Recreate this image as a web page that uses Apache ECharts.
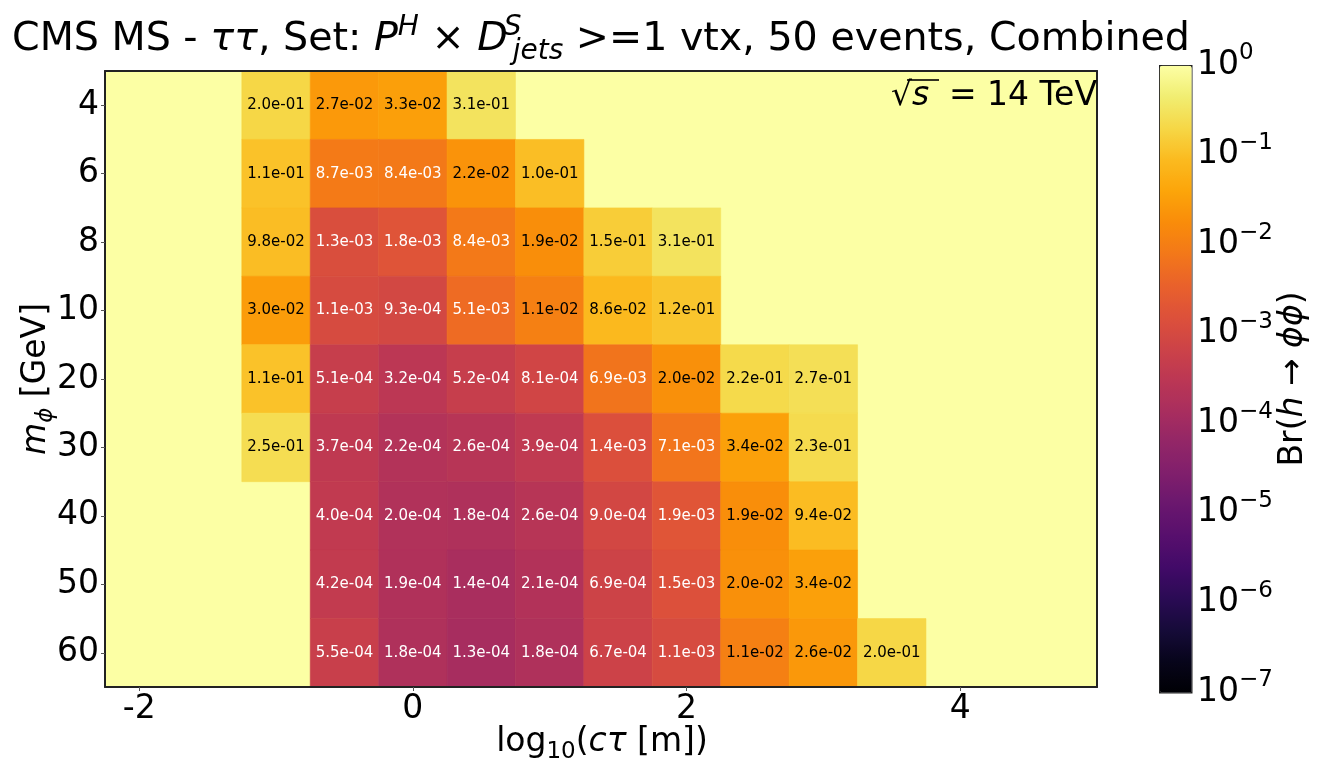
<!DOCTYPE html>
<html>
<head>
<meta charset="utf-8">
<script src="https://cdn.jsdelivr.net/npm/echarts@6/dist/echarts.min.js"></script>
<style>
    html, body { margin: 0; padding: 0; background: #fff; }
    #main { width: 1323px; height: 775px; }
</style>
</head>
<body>
<div id="main"></div>
<script>
// masses (rows, top to bottom) and log10(c*tau) bin centres (columns)
var massLabels = ['4', '6', '8', '10', '20', '30', '40', '50', '60'];
var ctauCenters = [-1.0, -0.5, 0.0, 0.5, 1.0, 1.5, 2.0, 2.5, 3.0, 3.5];

// Br(h -> phi phi) limits per mass row, null = no entry
var br_m4  = [2.0e-01, 2.7e-02, 3.3e-02, 3.1e-01, null, null, null, null, null, null];
var br_m6  = [1.1e-01, 8.7e-03, 8.4e-03, 2.2e-02, 1.0e-01, null, null, null, null, null];
var br_m8  = [9.8e-02, 1.3e-03, 1.8e-03, 8.4e-03, 1.9e-02, 1.5e-01, 3.1e-01, null, null, null];
var br_m10 = [3.0e-02, 1.1e-03, 9.3e-04, 5.1e-03, 1.1e-02, 8.6e-02, 1.2e-01, null, null, null];
var br_m20 = [1.1e-01, 5.1e-04, 3.2e-04, 5.2e-04, 8.1e-04, 6.9e-03, 2.0e-02, 2.2e-01, 2.7e-01, null];
var br_m30 = [2.5e-01, 3.7e-04, 2.2e-04, 2.6e-04, 3.9e-04, 1.4e-03, 7.1e-03, 3.4e-02, 2.3e-01, null];
var br_m40 = [null, 4.0e-04, 2.0e-04, 1.8e-04, 2.6e-04, 9.0e-04, 1.9e-03, 1.9e-02, 9.4e-02, null];
var br_m50 = [null, 4.2e-04, 1.9e-04, 1.4e-04, 2.1e-04, 6.9e-04, 1.5e-03, 2.0e-02, 3.4e-02, null];
var br_m60 = [null, 5.5e-04, 1.8e-04, 1.3e-04, 1.8e-04, 6.7e-04, 1.1e-03, 1.1e-02, 2.6e-02, 2.0e-01];

var xTicks = [-2, 0, 2, 4];

// matplotlib inferno
var inferno = ['#000004', '#07051b', '#160b39', '#2a0b54', '#420a68', '#570f6d', '#6a176e',
    '#801f6c', '#932667', '#a92e5e', '#bc3754', '#cd4347', '#dd513a', '#e9612b', '#f37819',
    '#f98c0a', '#fca50a', '#fbba1f', '#f6d746', '#f1ed71', '#fcffa4'];

var FONT = 'DejaVu Sans';
var rows = [br_m4, br_m6, br_m8, br_m10, br_m20, br_m30, br_m40, br_m50, br_m60];
var cells = [];
rows.forEach(function (row, i) {
    row.forEach(function (v, j) {
        if (v == null) return;
        cells.push([ctauCenters[j], i, Math.log10(v), v]);
    });
});

function fmtExp(v) {
    return v.toExponential(1).replace(/e([+-])(\d)$/, function (m, s, d) { return 'e' + s + '0' + d; });
}

function renderCell(params, api) {
    var x = api.value(0), row = api.value(1), v = api.value(3);
    var p0 = api.coord([x - 0.25, row]);
    var p1 = api.coord([x + 0.25, row]);
    var h = api.size([0, 1])[1];
    var col = api.visual('color');
    return {
        type: 'group',
        children: [{
            type: 'rect',
            shape: { x: p0[0], y: p0[1] - h / 2, width: p1[0] - p0[0], height: h },
            style: { fill: col, stroke: col, lineWidth: 0.6 }
        }, {
            type: 'text',
            x: (p0[0] + p1[0]) / 2,
            y: p0[1],
            style: {
                text: fmtExp(v),
                fill: v < 0.01 ? '#fff' : '#000',
                font: '15px "' + FONT + '"',
                align: 'center',
                verticalAlign: 'middle'
            }
        }]
    };
}

var base = { fontFamily: FONT, color: '#000' };
function st(o) { return Object.assign({}, base, o); }

var chart = echarts.init(document.getElementById('main'));
chart.setOption({
    animation: false,
    backgroundColor: '#fff',
    grid: [
        { left: 105, top: 71, width: 992, height: 616, show: true, backgroundColor: inferno[inferno.length - 1], borderWidth: 0 },
        { left: 1159, top: 65, width: 32, height: 627 }
    ],
    xAxis: [{
        type: 'value', gridIndex: 0, min: -2.25, max: 5, position: 'bottom', z: 10,
        axisLine: { show: true, onZero: false, lineStyle: { color: '#222', width: 2 } },
        axisTick: { show: true, customValues: xTicks, length: 4, lineStyle: { color: '#555' } },
        axisLabel: { customValues: xTicks, fontSize: 33, fontFamily: FONT, color: '#000', margin: 6 },
        splitLine: { show: false }
    }, {
        type: 'value', gridIndex: 0, min: -2.25, max: 5, position: 'top', z: 10,
        axisLine: { show: true, onZero: false, lineStyle: { color: '#222', width: 2 } },
        axisTick: { show: false }, axisLabel: { show: false }, splitLine: { show: false }
    }, {
        type: 'value', gridIndex: 1, min: 0, max: 1, show: false
    }],
    yAxis: [{
        type: 'category', gridIndex: 0, data: massLabels, inverse: true, z: 10,
        axisLine: { show: true, onZero: false, lineStyle: { color: '#222', width: 2 } },
        axisTick: { show: true, alignWithLabel: true, length: 4, lineStyle: { color: '#555' } },
        axisLabel: { fontSize: 33, fontFamily: FONT, color: '#000', margin: 6 },
        splitLine: { show: false }
    }, {
        type: 'category', gridIndex: 0, data: massLabels, inverse: true, position: 'right', z: 10,
        axisLine: { show: true, onZero: false, lineStyle: { color: '#222', width: 2 } },
        axisTick: { show: false }, axisLabel: { show: false }, splitLine: { show: false }
    }, {
        type: 'value', gridIndex: 1, min: -7, max: 0, interval: 1, position: 'right',
        axisLine: { show: false },
        axisTick: { show: true, length: 4, lineStyle: { color: '#555' } },
        axisLabel: {
            margin: 6,
            formatter: function (v) {
                return '{b|10}{e|' + (v < 0 ? '\u2212' + (-v) : v) + '}';
            },
            rich: {
                b: st({ fontSize: 33, lineHeight: 46 }),
                e: st({ fontSize: 23, lineHeight: 23, verticalAlign: 'top' })
            }
        },
        splitLine: { show: false }
    }],
    visualMap: {
        type: 'continuous', min: -7, max: 0, dimension: 2, seriesIndex: 0,
        orient: 'vertical', left: 1159, top: 65, itemWidth: 32, itemHeight: 627,
        calculable: false, hoverLink: false, padding: 0,
        borderColor: '#222', borderWidth: 1.5,
        inRange: { color: inferno }
    },
    series: [{
        type: 'custom',
        xAxisIndex: 0, yAxisIndex: 0,
        renderItem: renderCell,
        encode: { x: 0, y: 1 },
        data: cells,
        z: 2
    }],
    graphic: [{
        type: 'text', x: 601, y: 40,
        style: {
            text: '{n|CMS MS - }{i|\u03c4\u03c4}{n|, Set: }{i|P}{sup|H}{n| \u00d7 }{i|D}{gap| }{stk|S}{sub|jets}{n| >=1 vtx, 50 events, Combined}',
            align: 'center', verticalAlign: 'middle',
            rich: {
                n: st({ fontSize: 39.6, lineHeight: 52 }),
                i: st({ fontSize: 39.6, lineHeight: 52, fontStyle: 'italic' }),
                gap: st({ fontSize: 28, lineHeight: 28, width: 5 }),
                sup: st({ fontSize: 28, lineHeight: 28, fontStyle: 'italic', verticalAlign: 'top' }),
                stk: st({ fontSize: 28, lineHeight: 28, fontStyle: 'italic', verticalAlign: 'top', width: 0 }),
                sub: st({ fontSize: 28, lineHeight: 28, fontStyle: 'italic', verticalAlign: 'bottom' })
            }
        }
    }, {
        type: 'text', x: 891, y: 96, z: 20,
        style: { text: '\u221a', font: '33px "' + FONT + '"', fill: '#000', align: 'left', verticalAlign: 'middle' }
    }, {
        type: 'text', x: 912, y: 96, z: 20,
        style: { text: 's', font: 'italic 33px "' + FONT + '"', fill: '#000', align: 'left', verticalAlign: 'middle' }
    }, {
        type: 'line', z: 20,
        shape: { x1: 907, y1: 80, x2: 939, y2: 80 },
        style: { stroke: '#000', lineWidth: 1.6 }
    }, {
        type: 'text', x: 1097, y: 96, z: 20,
        style: { text: '= 14 TeV', font: '33px "' + FONT + '"', fill: '#000', align: 'right', verticalAlign: 'middle' }
    }, {
        type: 'text', x: 602, y: 742,
        style: {
            text: '{n|log}{sub|10}{n|(}{i|c\u03c4}{n| [m])}',
            align: 'center', verticalAlign: 'middle',
            rich: {
                n: st({ fontSize: 33, lineHeight: 44 }),
                i: st({ fontSize: 33, lineHeight: 44, fontStyle: 'italic' }),
                sub: st({ fontSize: 23, lineHeight: 23, verticalAlign: 'bottom' })
            }
        }
    }, {
        type: 'text', x: 36, y: 379, rotation: Math.PI / 2,
        style: {
            text: '{i|m}{sub|\u03d5}{n| [GeV]}',
            align: 'center', verticalAlign: 'middle',
            rich: {
                n: st({ fontSize: 33, lineHeight: 44 }),
                i: st({ fontSize: 33, lineHeight: 44, fontStyle: 'italic' }),
                sub: st({ fontSize: 23, lineHeight: 23, fontStyle: 'italic', verticalAlign: 'bottom' })
            }
        }
    }, {
        type: 'text', x: 1293, y: 379, rotation: Math.PI / 2,
        style: {
            text: '{n|Br(}{i|h}{n| \u2192 }{i|\u03d5\u03d5}{n|)}',
            align: 'center', verticalAlign: 'middle',
            rich: {
                n: st({ fontSize: 33, lineHeight: 40 }),
                i: st({ fontSize: 33, lineHeight: 40, fontStyle: 'italic' })
            }
        }
    }]
});
</script>
</body>
</html>
